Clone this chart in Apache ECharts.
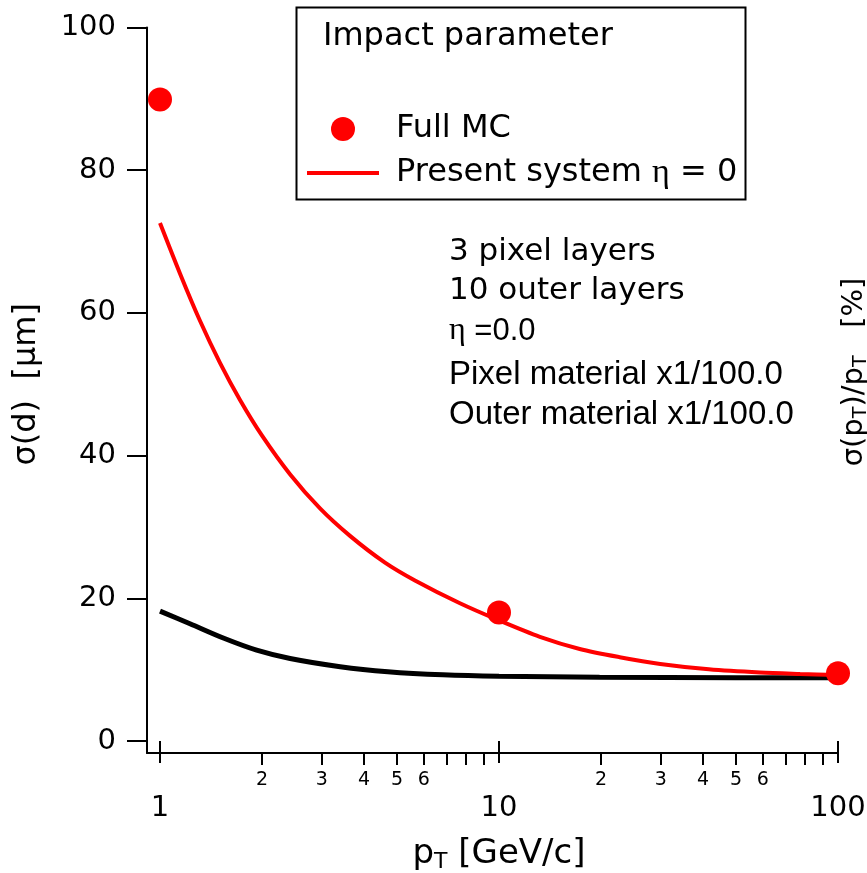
<!DOCTYPE html>
<html>
<head>
<meta charset="utf-8">
<script src="https://cdn.jsdelivr.net/npm/echarts@6/dist/echarts.min.js"></script>
<style>html,body{margin:0;padding:0;background:#fff}#c{width:867px;height:873px}</style>
</head>
<body>
<div id="c"></div>
<script>
// ---- data ----
const fullMC_pt = [1, 10, 100];
const fullMC_val = [89.9, 18.0, 9.5];

const red_pt  = [1, 1.146, 1.312, 1.503, 1.722, 2.0, 2.418, 2.965, 3.635, 4.61, 5.65, 7.67, 10, 13.2, 17.3, 22.7, 29.9, 41.6, 58.9, 77.3, 100];
const red_val = [72.6, 65.5, 58.9, 53.0, 47.8, 42.8, 37.4, 32.6, 28.75, 25.0, 22.5, 19.3, 16.9, 14.6, 12.9, 11.75, 10.8, 10.05, 9.6, 9.4, 9.25];

const black_pt  = [1, 1.226, 1.537, 1.928, 2.42, 3.4, 4.7, 6.83, 10, 19.8, 50, 100];
const black_val = [18.2, 16.44, 14.44, 12.74, 11.57, 10.42, 9.72, 9.28, 9.08, 8.95, 8.88, 8.85];

const yTicks = [0, 20, 40, 60, 80, 100];
const xMajorTicks = [1, 10, 100];
const xMinorTicks = [2, 3, 4, 5, 6, 7, 8, 9, 20, 30, 40, 50, 60, 70, 80, 90];
const xMinorLabels = [2, 3, 4, 5, 6, 20, 30, 40, 50, 60];

const annotations = ['3 pixel layers', '10 outer layers', 'η =0.0', 'Pixel material x1/100.0', 'Outer material x1/100.0'];

const zip = (a, b) => a.map((v, i) => [v, b[i]]);

const F = 'DejaVu Sans';
const chart = echarts.init(document.getElementById('c'));
chart.setOption({
  animation: false,
  backgroundColor: '#fff',
  grid: [
    {left: 160, right: 29, top: 27.5, bottom: 132, outerBoundsMode: 'none', containLabel: false},
    {left: 147, right: 29, top: 27.5, bottom: 120, outerBoundsMode: 'none', containLabel: false}
  ],
  xAxis: [
    {type: 'log', gridIndex: 0, position: 'bottom', min: 1, max: 100, offset: 12,
     axisLine: {show: false}, splitLine: {show: false},
     axisTick: {show: true, customValues: xMajorTicks, length: 22, lineStyle: {color: '#000', width: 2}},
     axisLabel: {customValues: xMajorTicks, fontFamily: F, fontSize: 29, color: '#000', margin: 41,
                 formatter: v => String(Math.round(v))},
     name: '{a|p}{s|T}{a| [GeV/c]}', nameLocation: 'middle', nameGap: 82,
     nameTextStyle: {rich: {
       a: {fontFamily: F, fontSize: 34, color: '#000', lineHeight: 38},
       s: {fontFamily: F, fontSize: 22, color: '#000', lineHeight: 20, verticalAlign: 'bottom'}
     }}},
    {type: 'log', gridIndex: 0, position: 'bottom', min: 1, max: 100, offset: 12,
     axisLine: {show: false}, splitLine: {show: false},
     axisTick: {show: true, customValues: xMinorTicks, length: 12, lineStyle: {color: '#000', width: 2}},
     axisLabel: {customValues: xMinorLabels, fontFamily: F, fontSize: 19, color: '#000', margin: 18,
                 formatter: v => String(v >= 10 ? Math.round(v / 10) : Math.round(v))}},
    {type: 'value', gridIndex: 1, position: 'bottom', min: 0, max: 1,
     axisLine: {show: true, lineStyle: {color: '#000', width: 2}},
     axisTick: {show: false}, axisLabel: {show: false}, splitLine: {show: false}}
  ],
  yAxis: [
    {type: 'value', gridIndex: 0, position: 'left', min: 0, max: 100, interval: 20, offset: 13,
     axisLine: {show: false}, splitLine: {show: false},
     axisTick: {show: true, length: 20, lineStyle: {color: '#000', width: 2}},
     axisLabel: {fontFamily: F, fontSize: 29, color: '#000', margin: 31},
     name: 'σ(d)  [µm]', nameLocation: 'middle', nameRotate: 90, nameGap: 104,
     nameTextStyle: {fontFamily: F, fontSize: 32, color: '#000'}},
    {type: 'value', gridIndex: 1, position: 'left', min: 0, max: 1,
     axisLine: {show: true, lineStyle: {color: '#000', width: 2}},
     axisTick: {show: false}, axisLabel: {show: false}, splitLine: {show: false}}
  ],
  legend: {
    orient: 'vertical', left: 302, top: 108, itemWidth: 72, itemHeight: 24, itemGap: 11,
    symbolKeepAspect: true,
    data: [
      {name: 'Full MC', icon: 'circle', itemStyle: {color: '#ff0000', opacity: 1}},
      {name: 'Present system η = 0', icon: 'path://M0,0L72,0L72,4L0,4Z', itemStyle: {color: '#ff0000', opacity: 1}}
    ],
    formatter: n => n === 'Full MC' ? '{a|Full MC}' : '{a|Present system }{e|η}{a| = 0}',
    textStyle: {padding: [0, 0, 0, 12], rich: {
      a: {fontFamily: F, fontSize: 32, color: '#000', lineHeight: 24},
      e: {fontFamily: 'Liberation Serif', fontSize: 34, color: '#000', lineHeight: 24}
    }},
    selectedMode: false
  },
  graphic: [
    {type: 'rect', left: 294, top: 5, shape: {width: 449, height: 192},
     style: {fill: 'none', stroke: '#000', lineWidth: 2}, z: 10},
    {type: 'text', left: 323, top: 21, style: {text: 'Impact parameter', font: '32px "DejaVu Sans"', fill: '#000'}, z: 10},
    {type: 'text', left: 449, top: 236, style: {text: annotations[0], font: '31px "DejaVu Sans"', fill: '#000'}},
    {type: 'text', left: 449, top: 275, style: {text: annotations[1], font: '31px "DejaVu Sans"', fill: '#000'}},
    {type: 'text', left: 449, top: 315, style: {
      text: '{e|η}{a| =0.0}', rich: {
        e: {fontFamily: 'Liberation Serif', fontSize: 32, fill: '#000'},
        a: {fontFamily: 'Liberation Sans', fontSize: 31, fill: '#000'}
      }}},
    {type: 'text', left: 449, top: 358, style: {text: annotations[3], font: '33px "Liberation Sans"', fill: '#000'}},
    {type: 'text', left: 449, top: 398, style: {text: annotations[4], font: '33px "Liberation Sans"', fill: '#000'}},
    {type: 'text', x: 854, y: 372, rotation: Math.PI / 2, style: {
      text: '{a|σ(p}{s|T}{a|)/p}{s|T}{a|   [%]}', align: 'center', verticalAlign: 'middle',
      rich: {
        a: {fontFamily: F, fontSize: 29, fill: '#000', lineHeight: 34},
        s: {fontFamily: F, fontSize: 19, fill: '#000', lineHeight: 18, verticalAlign: 'bottom'}
      }}}
  ],
  series: [
    {name: 'Present system η = 0', type: 'line', xAxisIndex: 0, yAxisIndex: 0,
     data: zip(red_pt, red_val), smooth: 0.3, showSymbol: false, symbol: 'none',
     lineStyle: {color: '#ff0000', width: 4}, itemStyle: {color: '#ff0000'}, z: 3},
    {name: 'Black', type: 'line', xAxisIndex: 0, yAxisIndex: 0,
     data: zip(black_pt, black_val), smooth: 0.3, showSymbol: false, symbol: 'none',
     lineStyle: {color: '#000', width: 5}, z: 2},
    {name: 'Full MC', type: 'scatter', xAxisIndex: 0, yAxisIndex: 0,
     data: zip(fullMC_pt, fullMC_val), symbol: 'circle', symbolSize: 24, clip: false,
     itemStyle: {color: '#ff0000', opacity: 1}, z: 4}
  ]
});
</script>
</body>
</html>
